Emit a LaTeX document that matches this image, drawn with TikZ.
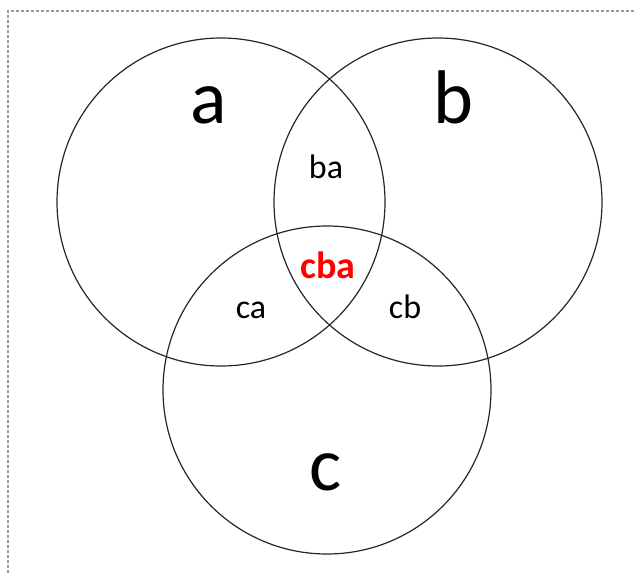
\documentclass[tikz,border=0pt]{standalone}
\usepackage{fontspec}
\setmainfont{Carlito}

\begin{document}
\begin{tikzpicture}[x=1pt, y=-1pt,
    set/.style={circle, draw=black!85, line width=1.2pt, minimum size=328pt, inner sep=0pt},
    big/.style={anchor=base, inner sep=0pt, font=\fontsize{76}{84}\selectfont},
    small/.style={anchor=base, inner sep=0pt, font=\fontsize{34}{40}\selectfont},
    frame/.style={draw=gray!80, line width=1.2pt, dash pattern=on 3pt off 2pt}
]
\useasboundingbox (0,0) rectangle (635,573);

% dashed frame (top and left edges)
\draw[frame] (8,573) -- (8,11) -- (635,11);

% the three sets
\node[set] (seta) at (221,202) {};
\node[set] (setb) at (438,202) {};
\node[set] (setc) at (327,390) {};

% set names
\node[big] (la) at (209,123) {a};
\node[big] (lb) at (453,123) {b};
\node[big] (lc) at (326,490) {c};

% intersections
\node[small] (lba) at (326,178) {ba};
\node[small] (lca) at (251,318) {ca};
\node[small] (lcb) at (405,318) {cb};
\node[small, text=red, font=\fontsize{38}{44}\selectfont\bfseries] (lcba) at (328,278) {cba};

\end{tikzpicture}
\end{document}
